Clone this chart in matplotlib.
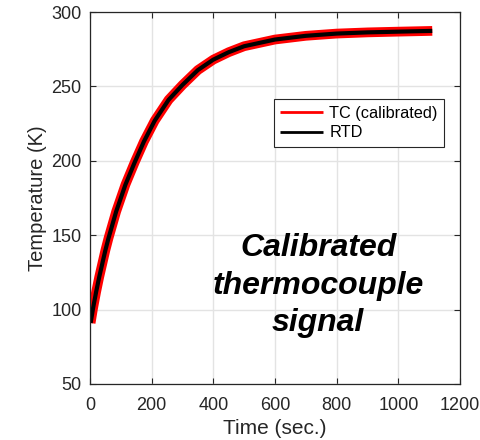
import numpy as np
import matplotlib.pyplot as plt

plt.rcParams['font.family'] = ['Liberation Sans', 'DejaVu Sans']

# values (time in s, temperature in K)
time_s = [2, 10, 20, 30, 40, 50, 60, 85, 115, 145, 175, 210, 255, 300, 350,
          400, 450, 500, 600, 700, 800, 900, 1000, 1110]
temp_rtd = [91, 101, 112, 122, 131, 140, 148, 166, 184, 199, 213, 227, 241,
            251, 261, 268, 273, 277, 281.5, 284, 285.5, 286.3, 286.8, 287.3]
temp_tc = [91, 101, 112, 122, 131, 140, 148, 166, 184, 199, 213, 227, 241,
           251, 261, 268, 273, 277, 281.5, 284, 285.5, 286.3, 286.8, 287.3]

x_ticks = [0, 200, 400, 600, 800, 1000, 1200]
y_ticks = [50, 100, 150, 200, 250, 300]

fig = plt.figure(figsize=(4.81, 4.40), dpi=100)
ax = fig.add_axes([90/481, 1-384/440, 370/481, 372/440])

ax.plot(time_s, temp_tc, color='#ff0000', lw=7, solid_capstyle='butt',
        label='TC (calibrated)')
ax.plot(time_s, temp_rtd, color='black', lw=3, solid_capstyle='butt',
        label='RTD')

ax.set_xlim(0, 1200)
ax.set_ylim(50, 300)
ax.set_xticks(x_ticks)
ax.set_yticks(y_ticks)
ax.grid(True, color='#e3e3e3', lw=1)
ax.set_axisbelow(True)
ax.tick_params(direction='in', top=True, right=True, length=4, pad=6,
               labelsize=13, colors='#262626', width=0.8)
ax.tick_params(axis='x', pad=9)
for s in ax.spines.values():
    s.set_color('#262626')
    s.set_linewidth(0.9)

ax.set_xlabel('Time (sec.)', fontsize=15, color='#262626', labelpad=4)
ax.set_ylabel('Temperature (K)', fontsize=14.5, color='#262626', labelpad=3)

leg = ax.legend(loc='upper right', bbox_to_anchor=(0.957, 0.766),
                fontsize=11.7, fancybox=False, framealpha=1,
                edgecolor='#262626', handlelength=2.6, borderpad=0.4,
                labelspacing=0.3, handletextpad=0.4, borderaxespad=0)
leg.get_frame().set_linewidth(0.8)
for h in leg.get_lines():
    h.set_linewidth(2)

ax.text(740, 116, 'Calibrated\nthermocouple\nsignal', ha='center',
        va='center', fontsize=23, fontweight='bold', fontstyle='italic',
        linespacing=1.32)

fig.savefig('out.png', dpi=100)
